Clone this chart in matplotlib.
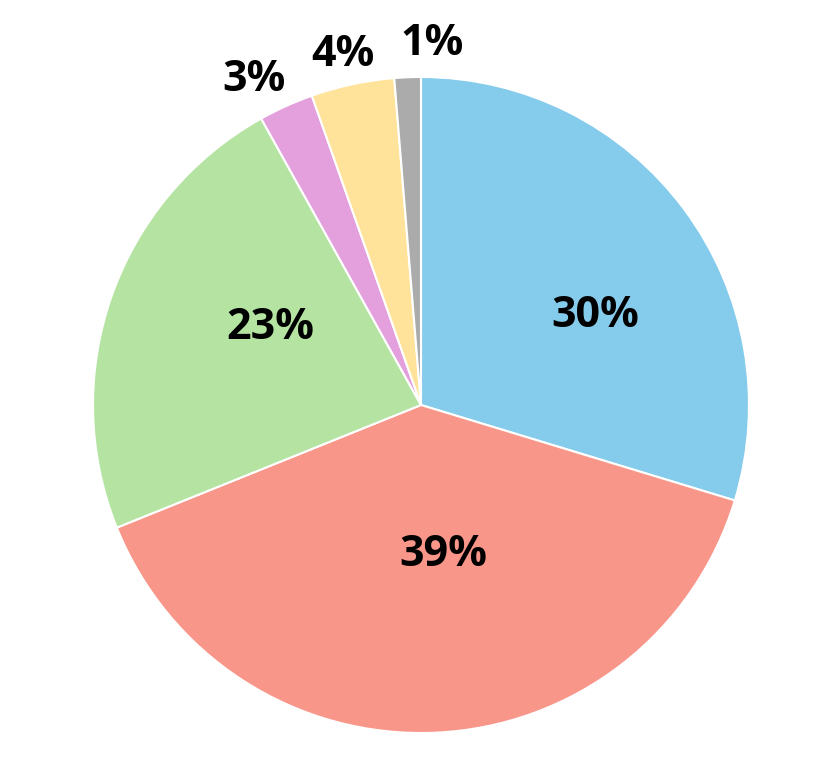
import matplotlib
matplotlib.use('Agg')
import matplotlib.pyplot as plt

# 数据
values = [29.7, 39.2, 23.0, 2.7, 4.1, 1.3]
labels = ['30%', '39%', '23%', '3%', '4%', '1%']
colors = ['#85CBEB', '#F9968A', '#B5E4A2', '#E3A0DC', '#FFE39A', '#ABABAB']
# 标签位置（半径单位）
label_xy = [(0.530, 0.272), (0.067, -0.456), (-0.460, 0.236),
            (-0.509, 0.992), (-0.238, 1.068), (0.034, 1.102)]

plt.rcParams['font.family'] = ['Open Sans', 'DejaVu Sans']

fig = plt.figure(figsize=(8.3, 7.64), dpi=100)
ax = fig.add_axes([0, 0, 1, 1])

R = 328.0
cx, cy = 421.0, 764 - 405.0

ax.pie(values, colors=colors, startangle=90, counterclock=False, radius=1.0,
       wedgeprops=dict(edgecolor='white', linewidth=1.5), frame=True)
ax.set_xlim(-cx / R, (830 - cx) / R)
ax.set_ylim(-cy / R, (764 - cy) / R)
ax.set_aspect('auto')
ax.axis('off')

for lab, (x, y) in zip(labels, label_xy):
    ax.text(x, y, lab, ha='center', va='center', fontsize=31,
            fontweight='bold', color='black')

fig.savefig('out.png', dpi=100)
